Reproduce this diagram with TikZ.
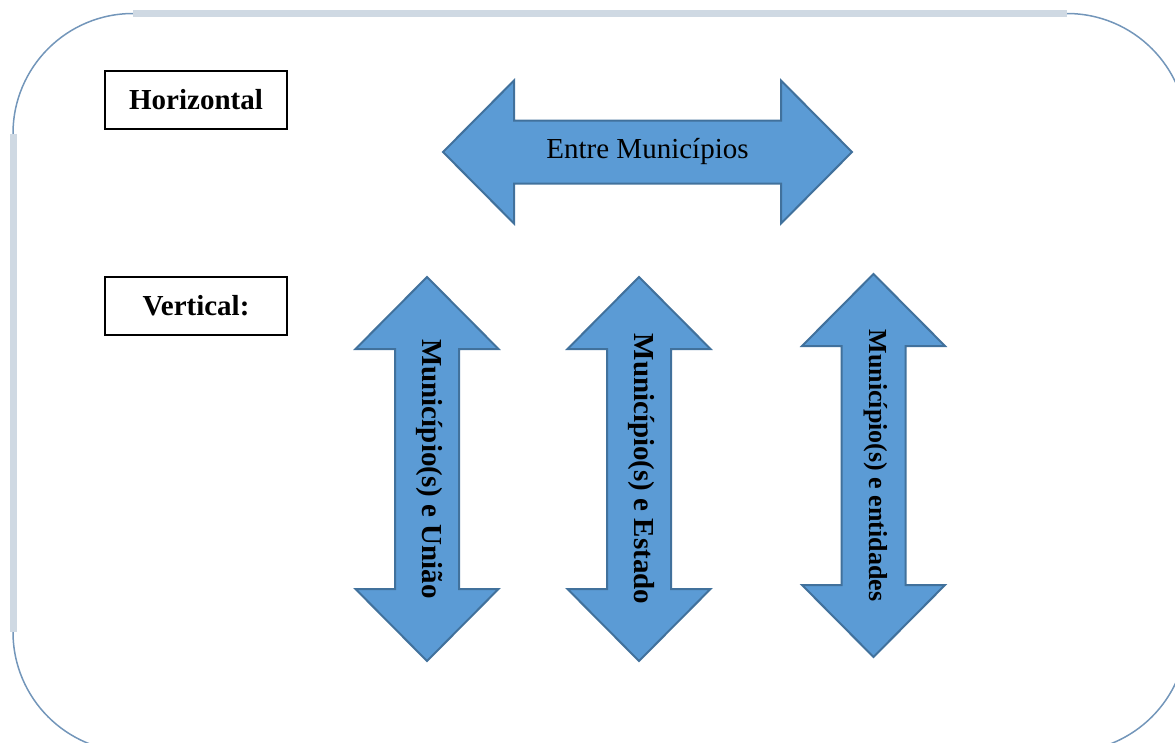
\documentclass[tikz,border=0pt]{standalone}
\usepackage{fontspec}
\setmainfont{Liberation Serif}
\usetikzlibrary{positioning}
\definecolor{arrowfill}{HTML}{5B9BD5}
\definecolor{arrowline}{HTML}{41719C}
\definecolor{frameline}{HTML}{CFD9E3}
\definecolor{framecorner}{HTML}{7396BA}
\tikzset{
  % The two label boxes on the left
  kindbox/.style={
    draw=black, line width=2pt, fill=white, inner sep=0pt,
    minimum width=182pt, minimum height=58pt,
    font=\fontsize{29}{34}\selectfont\bfseries},
  % Blue double arrows
  dblarrow/.style={fill=arrowfill, draw=arrowline, line width=2pt, line join=miter},
  % Text inside the arrows
  flowlbl/.style={inner sep=0pt, font=\fontsize{29}{34}\selectfont},
  vflowlbl/.style={inner sep=0pt, rotate=-90, font=\fontsize{#1}{34}\selectfont\bfseries},
}
% vertical double arrow: centre x, top tip y, bottom tip y
\newcommand{\vdblarrow}[3]{%
  \draw[dblarrow] (#1,#2) -- ++(71.5,72) -- ++(-39.5,0) -- (#1+32,#3-72)
    -- ++(39.5,0) -- (#1,#3) -- ++(-71.5,-72) -- ++(39.5,0)
    -- (#1-32,#2+72) -- ++(-39.5,0) -- cycle;}

\begin{document}
\begin{tikzpicture}[x=1pt, y=-1pt]
  \useasboundingbox (0,0) rectangle (1175,742);

  % outer frame
  \draw[framecorner, line width=1.5pt, rounded corners=120pt] (13,13.5) rectangle (1187,752);
  \draw[frameline, line width=7pt] (133,13.5) -- (1067,13.5);
  \draw[frameline, line width=7pt] (13,133.5) -- (13,632);

  \node[kindbox] (horiz) at (196,100) {Horizontal};
  \node[kindbox, below=146pt of horiz] (vert) {Vertical:};

  % horizontal arrow
  \draw[dblarrow] (443,152) -- ++(71,-71.5) -- ++(0,40) -- (781,120.5)
    -- ++(0,-40) -- (852,152) -- ++(-71,71.5) -- ++(0,-40)
    -- (514,183.5) -- ++(0,40) -- cycle;
  \node[flowlbl] (entre) at (647.5,152) {Entre Municípios};

  % vertical arrows
  \vdblarrow{427}{277}{661}
  \vdblarrow{639}{277}{661}
  \vdblarrow{873.5}{274}{657}
  \node[vflowlbl=29] (uniao) at (430,469) {Município(s) e União};
  \node[vflowlbl=29] (estado) at (641,469) {Município(s) e Estado};
  \node[vflowlbl=26] (entid) at (876,465.5) {Município(s) e entidades};

\end{tikzpicture}
\end{document}
